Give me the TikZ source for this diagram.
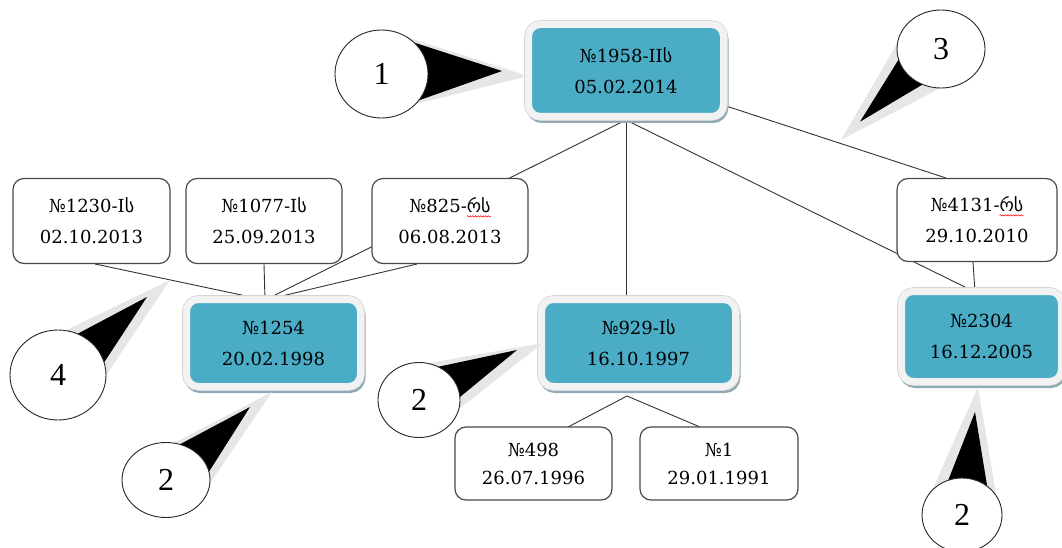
\documentclass[tikz,border=0pt]{standalone}
\usepackage{fontspec}
\setmainfont{DejaVu Serif}
\newfontfamily\geo{DejaVu Sans}
\newfontfamily\numfont{Liberation Serif}
\usetikzlibrary{shapes.geometric,decorations.pathmorphing}
\definecolor{tealfill}{HTML}{4BACC6}
\definecolor{framecol}{HTML}{F2F2F2}
\definecolor{frameedge}{HTML}{D4D4D4}
\definecolor{shadowcol}{HTML}{8FAAB6}
\definecolor{edgegray}{HTML}{4A4A4A}
\definecolor{halo}{HTML}{E6E6E6}
\pgfdeclarelayer{background}
\pgfsetlayers{background,main}
\newlength\gwlen
\newcommand{\gs}{{\geo ს}}
\newcommand{\grs}{\settowidth{\gwlen}{\geo რს}\rlap{\geo რს}\tikz[baseline=0pt,x=1pt,y=1pt,sharp corners]{\useasboundingbox (0pt,0pt) rectangle (\gwlen,1pt);
  \draw[red, line width=0.5pt, sharp corners, decorate, decoration={snake, amplitude=0.7pt, segment length=2.6pt}] (0pt,-3.5pt) -- (\gwlen,-3.5pt);}}
\begin{document}
\begin{tikzpicture}[x=1pt,y=-1pt,
  every node/.style={font=\fontsize{18}{31}\selectfont, text=black},
  tealnode/.style={rectangle, rounded corners=12pt, fill=tealfill, draw=framecol,
     line width=7pt, inner sep=0pt, align=center,
     preaction={draw=shadowcol, line width=7pt, transform canvas={xshift=1.5pt, yshift=-3pt}},
     preaction={draw=frameedge, line width=8.6pt}},
  whitenode/.style={rectangle, rounded corners=11pt, fill=white, draw=edgegray,
     line width=1.2pt, inner sep=0pt, align=center},
  link/.style={draw=black!80, line width=0.9pt},
  callout/.style={ellipse, draw=black!85, line width=0.9pt, fill=white, inner sep=0pt,
     font=\numfont\fontsize{32}{32}\selectfont},
  halofill/.style={fill=halo},
  wedgefill/.style={fill=black}
]
\useasboundingbox (0,0) rectangle (1062,548);

% teal boxes
\node[tealnode, minimum width=195pt, minimum height=92pt] (T) at (626,70.5) {№1958-II\gs\\05.02.2014};
\node[tealnode, minimum width=174pt, minimum height=87pt] (B1254) at (273.5,343) {№1254\\20.02.1998};
\node[tealnode, minimum width=194pt, minimum height=87pt] (B929) at (638.5,343) {№929-I\gs\\16.10.1997};
\node[tealnode, minimum width=160pt, minimum height=90pt] (B2304) at (981.5,336.5) {№2304\\16.12.2005};

% white boxes
\node[whitenode, minimum width=157pt, minimum height=85pt] (W1230) at (91.5,221) {№1230-I\gs\\02.10.2013};
\node[whitenode, minimum width=156pt, minimum height=85pt] (W1077) at (264,221) {№1077-I\gs\\25.09.2013};
\node[whitenode, minimum width=156pt, minimum height=85pt] (W825) at (450,221) {№825-\grs\\06.08.2013};
\node[whitenode, minimum width=160pt, minimum height=83pt] (W4131) at (977,220) {№4131-\grs\\29.10.2010};
\node[whitenode, minimum width=157pt, minimum height=73pt, font=\fontsize{18}{28}\selectfont] (W498) at (533.5,463.5) {№498\\26.07.1996};
\node[whitenode, minimum width=158pt, minimum height=73pt, font=\fontsize{18}{28}\selectfont] (W1) at (719,463.5) {№1\\29.01.1991};

% junction coordinates
\coordinate (j1254) at (265,300);
\coordinate (j2304) at (975,292);
\coordinate (j929) at (627,396);
\coordinate (tR) at (723,105);
\coordinate (w4131top) at (946,178);
\coordinate (w4131bot) at (973,262);
\coordinate (w1230bot) at (95,264);
\coordinate (w825bot) at (417,264);
\coordinate (w498top) at (568,427);
\coordinate (w1top) at (700,427);

\begin{pgfonlayer}{background}
  \draw[link] (T.south) -- (j1254);
  \draw[link] (T.south) -- (T.south |- B929.north);
  \draw[link] (T.south) -- (j2304);
  \draw[link] (tR) -- (w4131top);
  \draw[link] (w4131bot) -- (j2304);
  \draw[link] (w1230bot) -- (j1254);
  \draw[link] (W1077.south) -- (j1254);
  \draw[link] (w825bot) -- (j1254);
  \draw[link] (j929) -- (w498top);
  \draw[link] (j929) -- (w1top);
\end{pgfonlayer}

% callout wedges
\fill[halofill] (528,76) -- (400,35) -- (400,108) -- cycle;
\fill[wedgefill] (502,71) -- (400,38) -- (400,107) -- cycle;
\fill[halofill] (841,140) -- (906,28) -- (965.5,75) -- cycle;
\fill[wedgefill] (860,121.7) -- (909.8,41.5) -- (940.2,74) -- cycle;
\fill[halofill] (170,280) -- (35.7,345) -- (92,396.5) -- cycle;
\fill[wedgefill] (147,297) -- (57.8,344.3) -- (90.7,382.9) -- cycle;
\fill[halofill] (272,392) -- (153,454) -- (197.7,501.6) -- cycle;
\fill[wedgefill] (250,407) -- (161.2,454.3) -- (196,492.2) -- cycle;
\fill[halofill] (543,343) -- (402.6,367.7) -- (435,427.8) -- cycle;
\fill[wedgefill] (517,350) -- (407,373.4) -- (435,417.6) -- cycle;
\fill[halofill] (978,387) -- (928.4,498.6) -- (997,500) -- cycle;
\fill[wedgefill] (975,412) -- (940.3,500.5) -- (990.2,504.8) -- cycle;

% callout ellipses
\node[callout, minimum width=93pt, minimum height=88pt] (c1) at (381.5,74) {1};
\node[callout, minimum width=88pt, minimum height=78pt] (c3) at (941,49) {3};
\node[callout, minimum width=96pt, minimum height=90pt] (c4) at (58,375) {4};
\node[callout, minimum width=88pt, minimum height=75pt] (c2a) at (166,480) {2};
\node[callout, minimum width=82pt, minimum height=75pt] (c2b) at (419,400) {2};
\node[callout, minimum width=80pt, minimum height=74pt] (c2c) at (962,515) {2};
\end{tikzpicture}
\end{document}
